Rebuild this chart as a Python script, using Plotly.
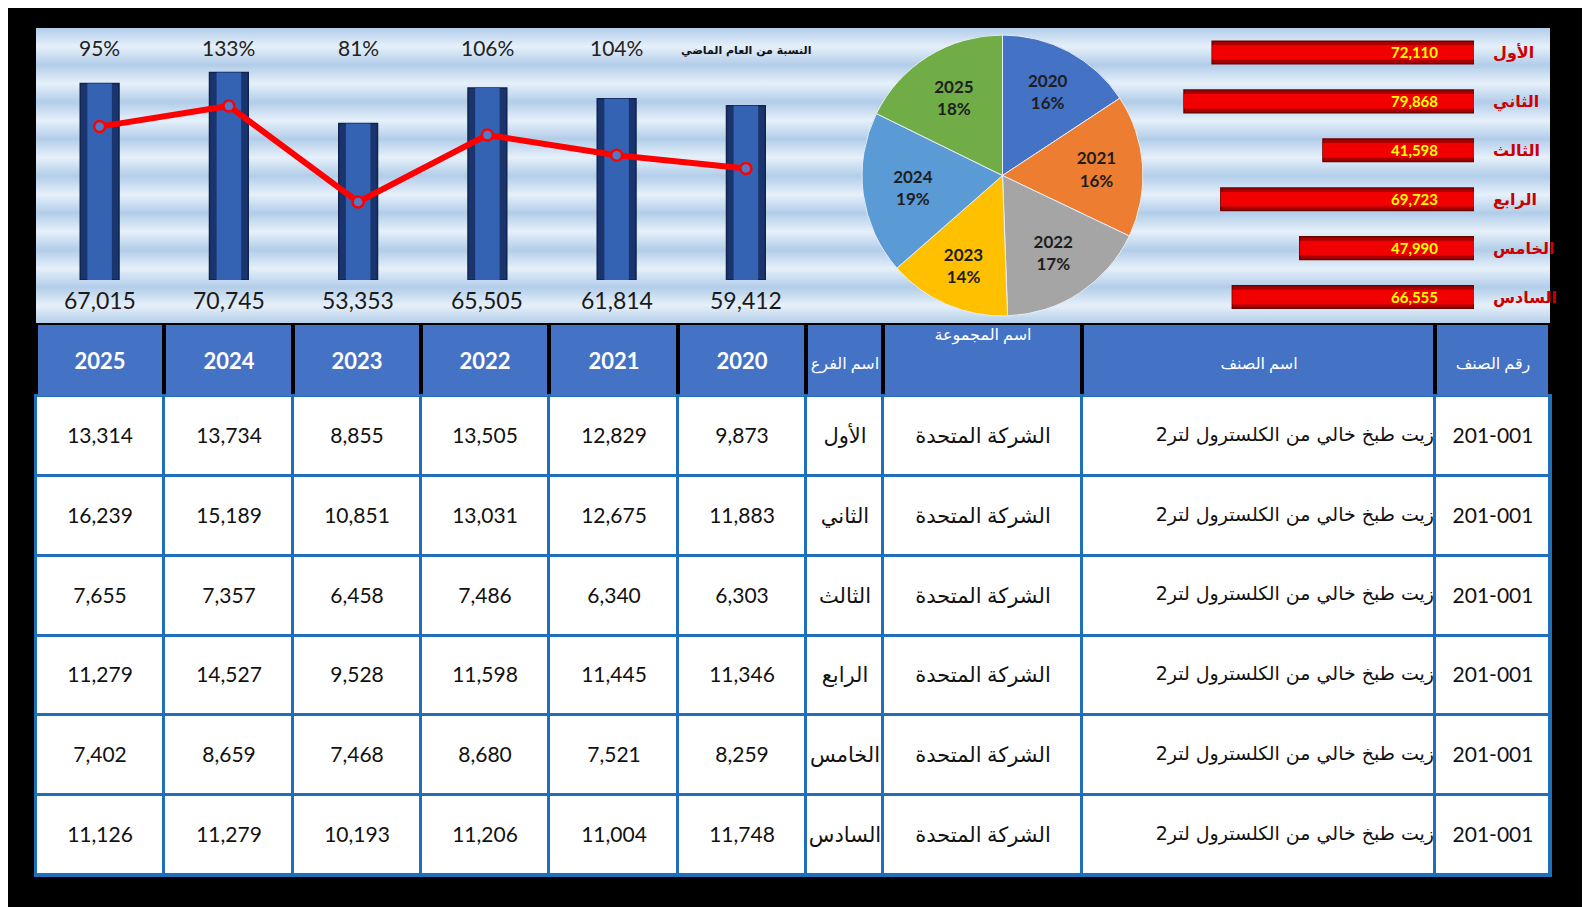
import base64
import plotly.graph_objects as go

# ---------------- data ----------------
years = ["2020", "2021", "2022", "2023", "2024", "2025"]
branches = ["الأول", "الثاني", "الثالث", "الرابع", "الخامس", "السادس"]
sales_2020 = [9873, 11883, 6303, 11346, 8259, 11748]
sales_2021 = [12829, 12675, 6340, 11445, 7521, 11004]
sales_2022 = [13505, 13031, 7486, 11598, 8680, 11206]
sales_2023 = [8855, 10851, 6458, 9528, 7468, 10193]
sales_2024 = [13734, 15189, 7357, 14527, 8659, 11279]
sales_2025 = [13314, 16239, 7655, 11279, 7402, 11126]
year_totals = [59412, 61814, 65505, 53353, 70745, 67015]      # 2020 .. 2025
branch_totals = [72110, 79868, 41598, 69723, 47990, 66555]    # الأول .. السادس
ratio_pct = [None, 104, 106, 81, 133, 95]                     # 2020 .. 2025
item_code = "201-001"
item_name = "زيت طبخ خالي من الكلسترول لتر2"
group_name = "الشركة المتحدة"
hdr_branch = "اسم الفرع"
hdr_group = "اسم المجموعة"
hdr_item = "اسم الصنف"
hdr_code = "رقم الصنف"
ratio_title = "النسبة من العام الماضي"
pie_colors = ["#4472C4", "#ED7D31", "#A5A5A5", "#FFC000", "#5B9BD5", "#70AD47"]

sales = {"2020": sales_2020, "2021": sales_2021, "2022": sales_2022,
         "2023": sales_2023, "2024": sales_2024, "2025": sales_2025}

# ---------------- layout helpers ----------------
OFF = 8                       # page margin of the html body
W, H = 1590 - OFF, 907 - OFF  # figure size so that it fits the window
def fx(p):
    return (p - OFF) / W
def fy(p):
    return 1 - (p - OFF) / H
def dx(a, b):
    return [fx(a), fx(b)]
def dy(top, bottom):
    return [fy(bottom), fy(top)]

FONT = "Lato, 'DejaVu Sans', sans-serif"
ARFONT = "'DejaVu Sans', sans-serif"
years_disp = years[::-1]

fig = go.Figure()

# ---------------- column chart + line ----------------
fig.add_trace(go.Bar(
    x=years, y=year_totals, xaxis="x", yaxis="y", width=0.30,
    marker=dict(color="#1a356e", line=dict(color="#10244f", width=1.5)),
    hoverinfo="skip", showlegend=False))
fig.add_trace(go.Bar(
    x=years, y=year_totals, xaxis="x", yaxis="y", width=0.19,
    marker=dict(color="#3463b3", line=dict(width=0)),
    hoverinfo="skip", showlegend=False))
fig.add_trace(go.Scatter(
    x=years, y=year_totals, xaxis="x", yaxis="y2", mode="lines+markers",
    line=dict(color="#ff0000", width=6),
    marker=dict(size=11, color="#4f7cc9", line=dict(color="#ff0000", width=2.5)),
    hoverinfo="skip", showlegend=False))

annotations = []
for y, p in zip(years, ratio_pct):
    xi = years_disp.index(y)
    if p is not None:
        annotations.append(dict(x=xi, y=fy(48), xref="x", yref="paper",
                                yanchor="middle", text=f"{p}%", showarrow=False,
                                font=dict(family=FONT, size=21, color="#222222")))
    else:
        annotations.append(dict(x=xi, y=fy(50), xref="x", yref="paper",
                                yanchor="middle", text=f"<b>{ratio_title}</b>",
                                showarrow=False,
                                font=dict(family=ARFONT, size=11, color="#111111")))
for y, t in zip(years, year_totals):
    annotations.append(dict(x=years_disp.index(y), y=fy(300), xref="x", yref="paper",
                            yanchor="middle", text=f"{t:,}", showarrow=False,
                            font=dict(family=FONT, size=23, color="#1a1a1a")))

# ---------------- pie ----------------
fig.add_trace(go.Pie(
    labels=years, values=year_totals, sort=False, direction="clockwise", rotation=0,
    marker=dict(colors=pie_colors, line=dict(color="#e8eef6", width=1)),
    texttemplate="<b>%{label}<br>%{percent:.0%}</b>", textposition="inside",
    insidetextorientation="horizontal",
    textfont=dict(family=FONT, size=17, color="#1e1e1e"),
    domain=dict(x=dx(861, 1144), y=dy(35, 316)),
    hoverinfo="skip", showlegend=False))

# ---------------- branch bars ----------------
fig.add_trace(go.Bar(
    x=branch_totals, y=branches, orientation="h", xaxis="x3", yaxis="y3", width=0.46,
    marker=dict(color="#a80000", line=dict(color="#6e0000", width=1.5)),
    hoverinfo="skip", showlegend=False))
fig.add_trace(go.Bar(
    x=branch_totals, y=branches, orientation="h", xaxis="x3", yaxis="y3", width=0.30,
    marker=dict(color="#f00000", line=dict(width=0)),
    hoverinfo="skip", showlegend=False))
for b, v in zip(branches, branch_totals):
    annotations.append(dict(x=0, y=b, xref="x3", yref="y3", text=f"<b>{v:,}</b>",
                            xanchor="right", xshift=-34, showarrow=False,
                            font=dict(family=FONT, size=15, color="#ffff00")))

# ---------------- table ----------------
col_widths = [128.4] * 6 + [77, 199, 353, 115]
edges = [0]
for w in col_widths:
    edges.append(edges[-1] + w)
header_h = 71
row_h = 79.83
row_edges = [header_h + i * row_h for i in range(len(branches) + 1)]

ar_span = "<span style='font-size:16px'>{}</span>"
header_text = [f"<b>{y}</b>" for y in years_disp] + [
    ar_span.format(hdr_branch), ar_span.format(hdr_group) + "<br> <br> ",
    ar_span.format(hdr_item), ar_span.format(hdr_code)]
fig.add_trace(go.Heatmap(
    z=[[1] * 10], x=edges, y=[0, header_h], xaxis="x4", yaxis="y4",
    text=[header_text], texttemplate="%{text}",
    textfont=dict(family=FONT, size=22, color="white"),
    colorscale=[[0, "#4472C4"], [1, "#4472C4"]], zmin=0, zmax=1, showscale=False,
    xgap=4, ygap=0, hoverinfo="skip"))

body_text = []
for i, b in enumerate(branches):
    body_text.append([f"{sales[y][i]:,}" for y in years_disp] +
                     [b, group_name, "", item_code])
fig.add_trace(go.Heatmap(
    z=[[0] * 10 for _ in branches], x=edges, y=row_edges, xaxis="x4", yaxis="y4",
    text=body_text, texttemplate="%{text}",
    textfont=dict(family=FONT, size=21, color="#111111"),
    colorscale=[[0, "white"], [1, "white"]], zmin=0, zmax=1, showscale=False,
    xgap=3, ygap=3, hoverinfo="skip"))

row_centers = [(row_edges[i] + row_edges[i + 1]) / 2 for i in range(len(branches))]
fig.add_trace(go.Scatter(
    x=[edges[9] - 1] * len(branches), y=row_centers, xaxis="x4", yaxis="y4",
    mode="text", text=[item_name] * len(branches), textposition="middle left",
    textfont=dict(family=ARFONT, size=19, color="#111111"),
    hoverinfo="skip", showlegend=False))

# ---------------- background ----------------
svg = ('<svg xmlns="http://www.w3.org/2000/svg" width="1514" height="295">'
       '<defs><linearGradient id="g" x1="0" y1="0" x2="0" y2="37" '
       'gradientUnits="userSpaceOnUse" spreadMethod="repeat">'
       '<stop offset="0" stop-color="#b2cde9"/><stop offset="0.5" stop-color="#e6f0fa"/>'
       '<stop offset="1" stop-color="#b2cde9"/></linearGradient></defs>'
       '<rect width="1514" height="295" fill="url(#g)"/></svg>')
bg_src = "data:image/svg+xml;base64," + base64.b64encode(svg.encode()).decode()

shapes = [
    dict(type="rect", xref="x4", yref="y4", x0=-2, x1=edges[-1] + 2, y0=0, y1=header_h,
         fillcolor="#000000", line=dict(width=0), layer="below"),
    dict(type="rect", xref="x4", yref="y4", x0=-2, x1=edges[-1] + 2, y0=header_h - 2,
         y1=row_edges[-1] + 2, fillcolor="#1f6fba", line=dict(width=0), layer="below"),
]

hidden = dict(visible=False, showgrid=False, zeroline=False, fixedrange=True)
fig.update_layout(
    width=W, height=H, margin=dict(l=0, r=0, t=0, b=0),
    paper_bgcolor="#000000", plot_bgcolor="rgba(0,0,0,0)",
    barmode="overlay", showlegend=False,
    font=dict(family=FONT),
    images=[dict(source=bg_src, xref="paper", yref="paper", x=fx(36), y=fy(28),
                 sizex=1514 / W, sizey=295 / H, sizing="stretch", layer="below",
                 xanchor="left", yanchor="top")],
    xaxis=dict(domain=dx(35, 810.5), type="category", categoryorder="array",
               categoryarray=years_disp, range=[-0.5, 5.5], **hidden),
    yaxis=dict(domain=dy(30, 280), range=[0, 85266], **hidden),
    yaxis2=dict(overlaying="y", range=[39223, 84513], anchor="x", **hidden),
    xaxis3=dict(domain=dx(1150, 1474), range=[89232, 0], anchor="y3", **hidden),
    yaxis3=dict(domain=dy(28, 321.5), type="category", categoryorder="array",
                categoryarray=branches, range=[5.5, -0.5], anchor="x3", side="right",
                showgrid=False, zeroline=False, showline=False, ticks="",
                ticklabelstandoff=18, fixedrange=True,
                tickfont=dict(family=ARFONT, size=16, color="#cc0000", weight="bold")),
    xaxis4=dict(domain=dx(34, 1552), range=[-2, edges[-1] + 2], anchor="y4", **hidden),
    yaxis4=dict(domain=dy(323, 877), range=[row_edges[-1] + 2, -2], anchor="x4", **hidden),
    shapes=shapes, annotations=annotations,
)

fig.write_html("out.html")
